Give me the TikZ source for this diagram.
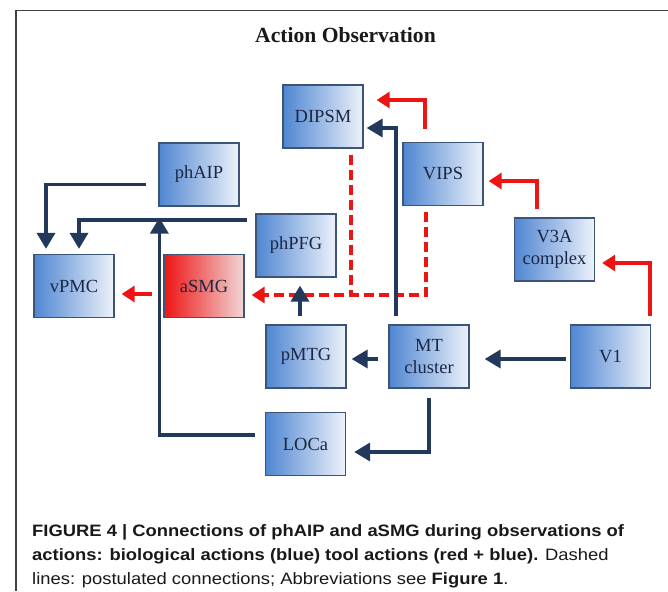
\documentclass[tikz,border=0pt]{standalone}
\usepackage{fontspec}
\setmainfont{Liberation Serif}
\newfontfamily\capfont[FakeStretch=1.115]{Liberation Sans}
\usetikzlibrary{arrows.meta,calc}
\definecolor{navy}{HTML}{22395C}
\definecolor{boxedge}{HTML}{3B5478}
\definecolor{boxleft}{HTML}{4F86D2}
\definecolor{boxmid}{HTML}{BCD0EE}
\definecolor{boxright}{HTML}{EEF2FA}
\definecolor{txt}{HTML}{1B2744}
\definecolor{arrred}{HTML}{EE1414}
\definecolor{redmid}{HTML}{EC8A8A}
\definecolor{redright}{HTML}{F1D6D6}
\tikzset{
  area/.style={draw=boxedge, line width=1.3pt, left color=boxleft, middle color=boxmid, right color=boxright,
    minimum width=80pt, minimum height=63pt, inner sep=0pt, align=center,
    font=\fontsize{18.5}{21.5}\selectfont, text=txt},
  redarea/.style={area, left color=arrred, middle color=redmid, right color=redright},
  bl/.style={draw=navy, line width=3.5pt, -{Triangle[length=16pt,width=18pt]}},
  rd/.style={draw=arrred, line width=3.4pt, -{Triangle[length=13pt,width=16pt]}},
  rdash/.style={draw=arrred, line width=3.4pt, dash pattern=on 10pt off 5pt},
  captext/.style={anchor=base west, inner sep=0pt, font=\capfont\fontsize{16.5}{20}\selectfont, text=black!90}
}
\begin{document}
\begin{tikzpicture}[x=1pt,y=-1pt]
\useasboundingbox (0,0) rectangle (668,591);
\fill[white] (0,0) rectangle (668,591);
\draw[line width=1.6pt, black!75] (16,591) -- (16,10.5) -- (668,10.5);
\node[anchor=base, inner sep=0pt, font=\bfseries\fontsize{21.6}{24}\selectfont, text=black!90] (title) at (345.5,43) {Action Observation};

\node[area] (DIPSM) at (323,116.5) {DIPSM};
\node[area] (phAIP) at (199,174.5) {phAIP};
\node[area] (VIPS) at (443,174) {VIPS};
\node[area] (phPFG) at (296,245.5) {phPFG};
\node[area] (V3A) at (554.5,249.5) {V3A\\complex};
\node[area] (vPMC) at (74,286) {vPMC};
\node[redarea] (aSMG) at (204,286) {aSMG};
\node[area] (pMTG) at (306,356.5) {pMTG};
\node[area] (MT) at (429,356.5) {MT\\cluster};
\node[area] (V1) at (610.5,356.5) {V1};
\node[area] (LOCa) at (305.5,444) {LOCa};

% red dashed
\draw[rdash, shorten <=6pt, shorten >=7pt, -{Triangle[length=13pt,width=16pt]}] ([xshift=-17pt]VIPS.south) |- ([yshift=-9pt]aSMG.east);
\draw[rdash] ([xshift=28pt]DIPSM.south) ++(0,6) -- ++(0,141);

% blue
\draw[bl, shorten >=5pt] ([shift={(-12,10)}]phAIP.west) -| ([xshift=-28pt]vPMC.north);
\draw[bl, shorten >=5pt] ([shift={(-8,-25.5)}]phPFG.west) -| ([xshift=5pt]vPMC.north);
\draw[bl, shorten >=11pt] ([shift={(-10,-9)}]LOCa.west) -| ([xshift=1pt]phAIP.south west);
\draw[bl, shorten <=8pt, shorten >=8pt] ([xshift=-6pt]pMTG.north) -- ([xshift=-6pt]pMTG.north |- phPFG.south);
\draw[bl, shorten <=8pt, shorten >=3pt] ([xshift=-33pt]MT.north) |- ([yshift=-11.5pt]DIPSM.east);
\draw[bl, shorten <=10pt, shorten >=5pt] ([yshift=-2.5pt]MT.west) -- ([yshift=-2.5pt]pMTG.east);
\draw[bl, shorten <=4pt, shorten >=15pt] ([yshift=-2.5pt]V1.west) -- ([yshift=-2.5pt]MT.east);
\draw[bl, shorten <=9pt, shorten >=8pt] (MT.south) |- ([yshift=-8pt]LOCa.east);

% red solid
\draw[rd, shorten <=13pt, shorten >=13pt] ([xshift=-18pt]VIPS.north) |- ([yshift=16.5pt]DIPSM.east);
\draw[rd, shorten <=8pt, shorten >=5pt] ([xshift=-17.5pt]V3A.north) |- ([yshift=-7pt]VIPS.east);
\draw[rd, shorten <=8pt, shorten >=7pt] ([xshift=39.5pt]V1.north) |- ([yshift=-13.5pt]V3A.east);
\draw[rd, shorten <=11pt, shorten >=7pt] ([yshift=-8pt]aSMG.west) -- ([yshift=-8pt]vPMC.east);

\node[captext] (c1) at (32,536) {\bfseries FIGURE 4 | Connections of phAIP and aSMG during observations of};
\node[captext] (c2) at (32,560) {\bfseries actions: biological actions (blue) tool actions (red + blue).\mdseries{} Dashed};
\node[captext] (c3) at (32,584) {lines: postulated connections; Abbreviations see \textbf{Figure 1}.};
\end{tikzpicture}
\end{document}
